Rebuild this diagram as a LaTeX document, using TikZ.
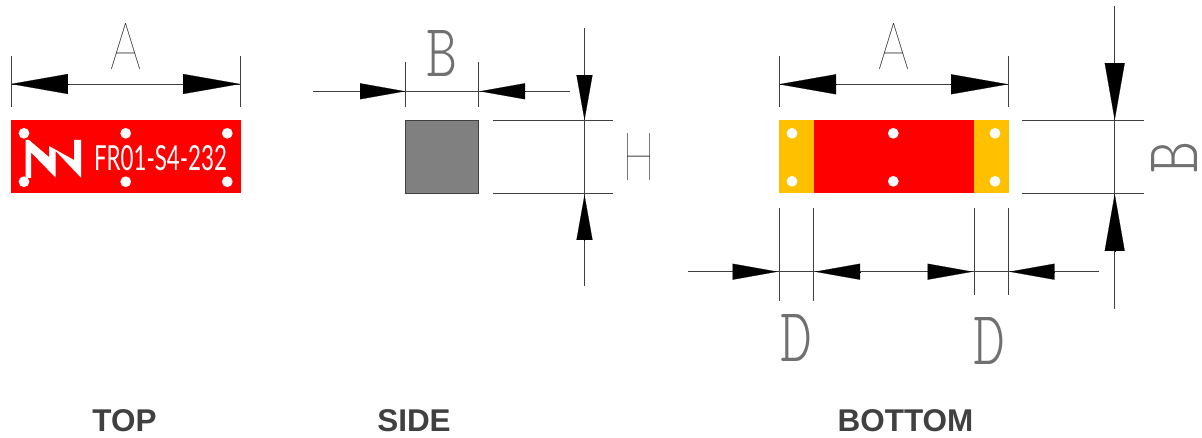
\documentclass[tikz,border=0pt]{standalone}
\usepackage{fontspec}
\usepackage{graphicx}
\usepackage{xcolor}
\usetikzlibrary{arrows.meta}
\setmainfont{Liberation Sans}
\newfontfamily\cadfont{Lato Thin}
\newfontfamily\cadslab{Latin Modern Mono Light}
\newfontfamily\platefont{Lato}
\definecolor{plate}{HTML}{FF0000}
\definecolor{pad}{HTML}{FFC000}
\definecolor{body}{HTML}{808080}
\definecolor{ink}{HTML}{404040}
\definecolor{slabink}{HTML}{707070}
\tikzset{
    % Dimension and extension lines
    dimline/.style={draw=ink, line width=0.5pt},
    % Arrow heads, small and large
    headsmall/.style={-{Triangle[length=0.9cm, width=0.32cm]}, line width=0.1pt, color=black},
    headlarge/.style={-{Triangle[length=1.14cm, width=0.4cm]}, line width=0.1pt, color=black},
    % Letters of the dimensions
    dimtext/.style={inner sep=0pt, text=black, font=\cadfont},
    dimslab/.style={inner sep=0pt, text=slabink, font=\cadslab},
    % View captions
    caption text/.style={font=\fontsize{17.9pt}{20pt}\selectfont\bfseries, text=ink, inner sep=0pt},
    hole/.style={circle, fill=white, draw=none, minimum size=0.215cm, inner sep=0pt}
}
\begin{document}
\begin{tikzpicture}[x=0.02cm, y=-0.02cm]
    \useasboundingbox (0, 0) rectangle (1202, 438);

    % Top view
    \fill[plate] (11, 120) rectangle (240.5, 193.5);
    \foreach \px in {24, 125.7, 227.3}
        \foreach \py in {133.3, 181.7}
            \node[hole] at (\px, \py) {};
    \fill[white] (25.7, 140) -- (29, 140) -- (49, 157) -- (49, 146) -- (74, 160) -- (74, 140) -- (81, 140)
        -- (81, 177.7) -- (55.7, 151) -- (55.7, 177.7) -- (31, 152.3) -- (31, 178) -- (25.7, 178) -- cycle;
    \node[inner sep=0pt, text=white, font=\platefont] (partno) at (160.5, 158.5) {\resizebox{2.66cm}{0.5cm}{FR01-S4-232}};
    \draw[dimline] (11, 56) -- (11, 107);
    \draw[dimline] (240, 56) -- (240, 107);
    \draw[dimline] (11, 84) -- (240, 84);
    \draw[headlarge] (68, 84) -- (11, 84);
    \draw[headlarge] (183, 84) -- (240, 84);
    \node[dimtext] (topA) at (126, 47) {\resizebox{0.62cm}{0.92cm}{A}};

    % Side view
    \draw[draw=ink, fill=body, line width=0.5pt] (405.3, 120.5) rectangle (478, 193.5);
    \draw[dimline] (405.3, 62) -- (405.3, 107);
    \draw[dimline] (478, 62) -- (478, 107);
    \draw[dimline] (313, 91.3) -- (570, 91.3);
    \draw[headsmall] (360, 91.3) -- (405, 91.3);
    \draw[headsmall] (525, 91.3) -- (480, 91.3);
    \node[dimslab] (sideB) at (442, 53.7) {\resizebox{0.62cm}{0.92cm}{B}};
    \draw[dimline] (493, 120.5) -- (613, 120.5);
    \draw[dimline] (493, 193.5) -- (613, 193.5);
    \draw[dimline] (584.5, 28) -- (584.5, 286);
    \draw[headsmall] (584.5, 75) -- (584.5, 120);
    \draw[headsmall] (584.5, 240) -- (584.5, 195);
    \node[dimtext] (sideH) at (638.5, 157.5) {\resizebox{0.66cm}{0.94cm}{H}};

    % Bottom view
    \fill[pad] (779, 120.5) rectangle (1008.5, 193.5);
    \fill[plate] (813.5, 120.5) rectangle (974, 193.5);
    \foreach \px in {792, 893.3, 995}
        \foreach \py in {133.3, 181.3}
            \node[hole] at (\px, \py) {};
    \draw[dimline] (779, 56) -- (779, 107);
    \draw[dimline] (1008, 56) -- (1008, 107);
    \draw[dimline] (779, 84.3) -- (1008, 84.3);
    \draw[headlarge] (836.7, 84.3) -- (779, 84.3);
    \draw[headlarge] (950, 84.3) -- (1008, 84.3);
    \node[dimtext] (bottomA) at (893.5, 47) {\resizebox{0.62cm}{0.92cm}{A}};
    \draw[dimline] (1022, 120.5) -- (1144, 120.5);
    \draw[dimline] (1022, 193.5) -- (1144, 193.5);
    \draw[dimline] (1114.7, 6) -- (1114.7, 309);
    \draw[headlarge] (1114.7, 63) -- (1114.7, 120);
    \draw[headlarge] (1114.7, 250.7) -- (1114.7, 194);
    \node[dimslab, rotate=90] (bottomB) at (1174, 157.5) {\resizebox{0.64cm}{0.92cm}{B}};
    \draw[dimline] (779, 208.3) -- (779, 300.7);
    \draw[dimline] (813.7, 208.3) -- (813.7, 300.7);
    \draw[dimline] (974, 208.3) -- (974, 295);
    \draw[dimline] (1008, 208.3) -- (1008, 295);
    \draw[dimline] (688, 271.7) -- (1099, 271.7);
    \draw[headsmall] (733, 271.7) -- (777.5, 271.7);
    \draw[headsmall] (859.7, 271.7) -- (815, 271.7);
    \draw[headsmall] (927.7, 271.7) -- (972.5, 271.7);
    \draw[headsmall] (1054, 271.7) -- (1009.5, 271.7);
    \node[dimslab] (leftD) at (796.5, 338.5) {\resizebox{0.64cm}{0.94cm}{D}};
    \node[dimslab] (rightD) at (989.5, 341.5) {\resizebox{0.64cm}{0.94cm}{D}};

    % Captions
    \node[caption text] (top) at (124.5, 421) {TOP};
    \node[caption text] (side) at (414, 421) {SIDE};
    \node[caption text] (bottom) at (905.5, 421) {BOTTOM};
\end{tikzpicture}
\end{document}
